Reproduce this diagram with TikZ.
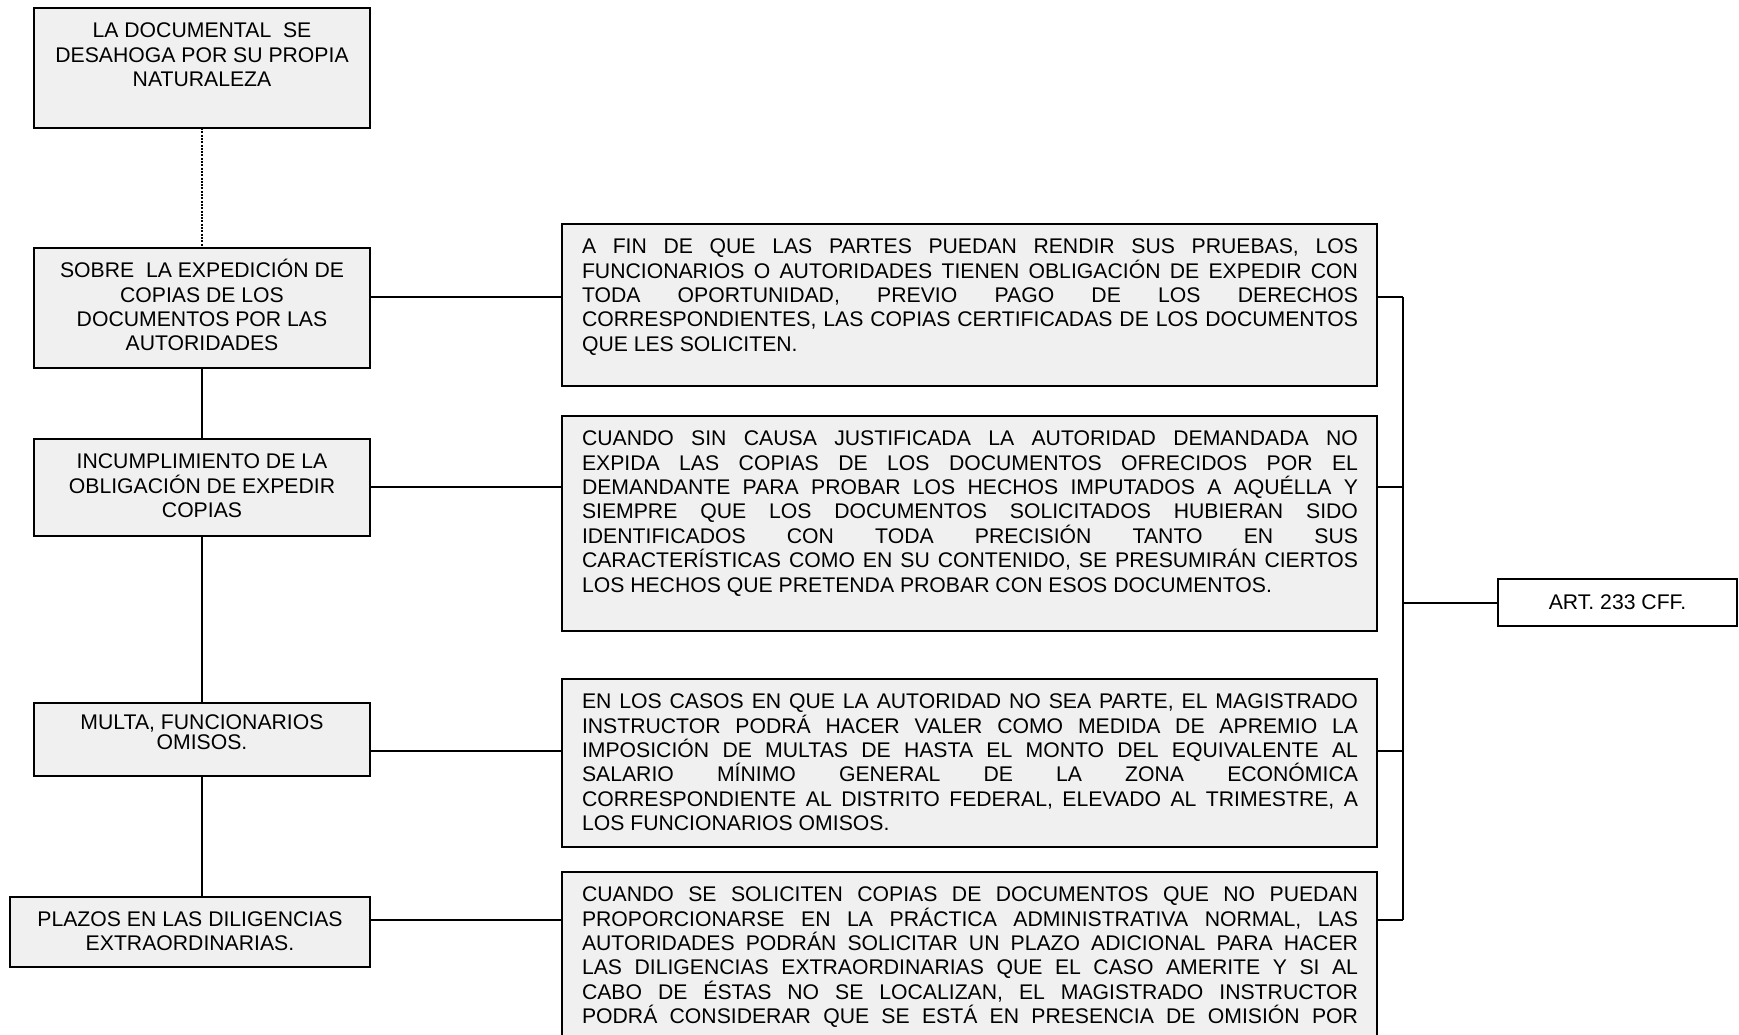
\documentclass[tikz,border=0pt]{standalone}
\usepackage{fontspec}
\setmainfont{Liberation Sans}
\definecolor{boxgray}{RGB}{240,240,240}
\tikzset{
  box/.style={draw=black, line width=2pt, fill=boxgray, inner sep=0pt, outer sep=0pt, anchor=north west},
  artbox/.style={draw=black, line width=2pt, fill=white, inner sep=0pt, outer sep=0pt, anchor=north west,
    minimum width=239pt, minimum height=47pt, font=\fontsize{21.2}{24.4}\selectfont},
  link/.style={draw=black, line width=2pt},
  dotlink/.style={draw=black, line width=2pt, dash pattern=on 2pt off 1.3pt}
}
% left (centred) box text: width, height, top gap, baselineskip, text
\newcommand\ltext[5]{\parbox[c][#2][t]{#1}{\centering\fontsize{21.2}{#4}\selectfont
  \vspace*{#3}\rule{0pt}{20pt}#5\par}}
% right (justified) box text: width, height, text
\newcommand\rtext[3]{\parbox[c][#2][t]{#1}{\fontsize{21.2}{24.4}\selectfont
  \leftskip=20pt\rightskip=19pt\tolerance=10000\hbadness=10000\hyphenpenalty=10000\exhyphenpenalty=10000
  \vspace*{9.6pt}\noindent\rule{0pt}{20pt}#3\par}}
\begin{document}
\begin{tikzpicture}[x=1pt,y=-1pt]
\clip (0,0) rectangle (1739,1034);
\fill[white] (0,0) rectangle (1739,1034);

% left column
\node[box] (b1) at (34,8) {\ltext{336pt}{120pt}{9.6pt}{24.4pt}{LA DOCUMENTAL\ \ SE\\DESAHOGA POR SU PROPIA\\NATURALEZA}};
\node[box] (b2) at (34,248) {\ltext{336pt}{120pt}{9.6pt}{24.4pt}{SOBRE\ \ LA EXPEDICIÓN DE\\COPIAS DE LOS\\DOCUMENTOS POR LAS\\AUTORIDADES}};
\node[box] (b3) at (34,439) {\ltext{336pt}{97pt}{9.6pt}{24.4pt}{INCUMPLIMIENTO DE LA\\OBLIGACIÓN DE EXPEDIR\\COPIAS}};
\node[box] (b4) at (34,703) {\ltext{336pt}{73pt}{6.6pt}{20pt}{MULTA, FUNCIONARIOS\\OMISOS.}};
\node[box] (b5) at (10,897) {\ltext{360pt}{70pt}{9pt}{24.4pt}{PLAZOS EN LAS DILIGENCIAS\\EXTRAORDINARIAS.}};

% right column
\node[box] (bA) at (562,224) {\rtext{815pt}{162pt}{A FIN DE QUE LAS PARTES PUEDAN RENDIR SUS PRUEBAS, LOS\linebreak
FUNCIONARIOS O AUTORIDADES TIENEN OBLIGACIÓN DE EXPEDIR CON\linebreak
TODA OPORTUNIDAD, PREVIO PAGO DE LOS DERECHOS\linebreak
CORRESPONDIENTES, LAS COPIAS CERTIFICADAS DE LOS DOCUMENTOS\linebreak
QUE LES SOLICITEN.}};
\node[box] (bB) at (562,416) {\rtext{815pt}{215pt}{CUANDO SIN CAUSA JUSTIFICADA LA AUTORIDAD DEMANDADA NO\linebreak
EXPIDA LAS COPIAS DE LOS DOCUMENTOS OFRECIDOS POR EL\linebreak
DEMANDANTE PARA PROBAR LOS HECHOS IMPUTADOS A AQUÉLLA Y\linebreak
SIEMPRE QUE LOS DOCUMENTOS SOLICITADOS HUBIERAN SIDO\linebreak
IDENTIFICADOS CON TODA PRECISIÓN TANTO EN SUS\linebreak
CARACTERÍSTICAS COMO EN SU CONTENIDO, SE PRESUMIRÁN CIERTOS\linebreak
LOS HECHOS QUE PRETENDA PROBAR CON ESOS DOCUMENTOS.}};
\node[box] (bC) at (562,679) {\rtext{815pt}{168pt}{EN LOS CASOS EN QUE LA AUTORIDAD NO SEA PARTE, EL MAGISTRADO\linebreak
INSTRUCTOR PODRÁ HACER VALER COMO MEDIDA DE APREMIO LA\linebreak
IMPOSICIÓN DE MULTAS DE HASTA EL MONTO DEL EQUIVALENTE AL\linebreak
SALARIO MÍNIMO GENERAL DE LA ZONA ECONÓMICA\linebreak
CORRESPONDIENTE AL DISTRITO FEDERAL, ELEVADO AL TRIMESTRE, A\linebreak
LOS FUNCIONARIOS OMISOS.}};
\node[box] (bD) at (562,872) {\rtext{815pt}{190pt}{\parfillskip=0pt CUANDO SE SOLICITEN COPIAS DE DOCUMENTOS QUE NO PUEDAN\linebreak
PROPORCIONARSE EN LA PRÁCTICA ADMINISTRATIVA NORMAL, LAS\linebreak
AUTORIDADES PODRÁN SOLICITAR UN PLAZO ADICIONAL PARA HACER\linebreak
LAS DILIGENCIAS EXTRAORDINARIAS QUE EL CASO AMERITE Y SI AL\linebreak
CABO DE ÉSTAS NO SE LOCALIZAN, EL MAGISTRADO INSTRUCTOR\linebreak
PODRÁ CONSIDERAR QUE SE ESTÁ EN PRESENCIA DE OMISIÓN POR}};

\node[artbox] (art) at (1498,579) {ART. 233 CFF.};

% connector levels
\coordinate (h1) at (0,297);
\coordinate (h2) at (0,487);
\coordinate (h3) at (0,751);
\coordinate (h4) at (0,920);
\coordinate (bx) at (1403,0);

% left spine
\draw[dotlink] (b1.south) -- (b2.north);
\draw[link] (b2.south) -- (b3.north);
\draw[link] (b3.south) -- (b4.north);
\draw[link] (b4.south) -- (b4.south |- b5.north);

% left to right
\draw[link] (b2.east |- h1) -- (bA.west |- h1);
\draw[link] (b3.east |- h2) -- (bB.west |- h2);
\draw[link] (b4.east |- h3) -- (bC.west |- h3);
\draw[link] (b5.east |- h4) -- (bD.west |- h4);

% right bracket
\draw[link] (bA.east |- h1) -- (bx |- h1);
\draw[link] (bB.east |- h2) -- (bx |- h2);
\draw[link] (bC.east |- h3) -- (bx |- h3);
\draw[link] (bD.east |- h4) -- (bx |- h4);
\draw[link] (bx |- h1) -- (bx |- h4);
\draw[link] (bx |- art.west) -- (art.west);
\end{tikzpicture}
\end{document}
